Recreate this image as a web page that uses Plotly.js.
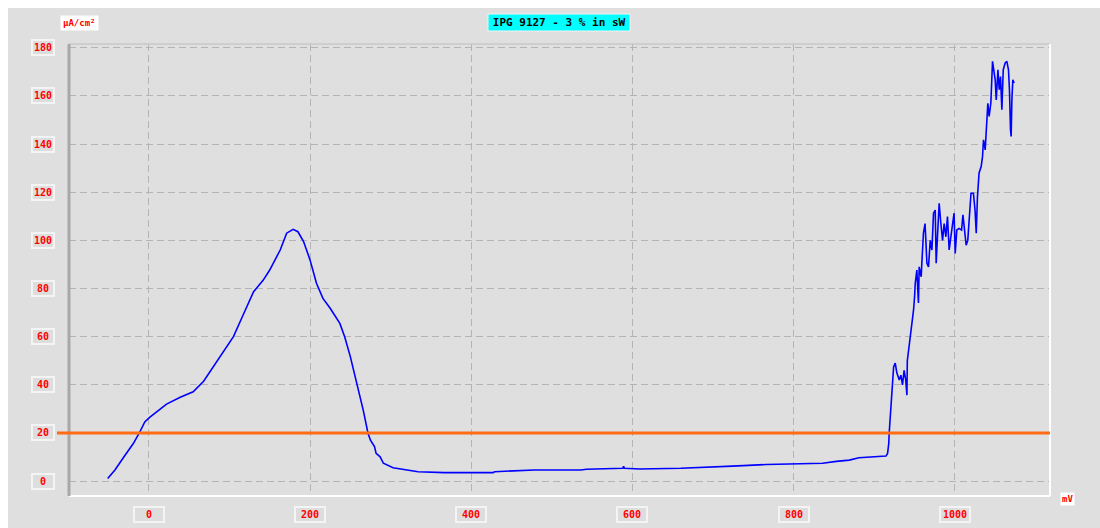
<!DOCTYPE html>
<html>
<head>
<meta charset="utf-8">
<script src="https://cdn.plot.ly/plotly-3.0.1.min.js"></script>
<style>html,body{margin:0;padding:0;background:#fff;}#chart{width:1100px;height:528px;}</style>
</head>
<body>
<div id="chart"></div>
<script>
// ---- data ----
const chartTitle = "IPG 9127 - 3 % in sW";
const yUnit = "µA/cm²";
const xUnit = "mV";
const xTickVals = [0, 200, 400, 600, 800, 1000];
const xTickText = ["0", "200", "400", "600", "800", "1000"];
const yTickVals = [0, 20, 40, 60, 80, 100, 120, 140, 160, 180];
const yTickText = ["0", "20", "40", "60", "80", "100", "120", "140", "160", "180"];
const thresholdLevel = 20;

const potential = [
  -51, -42, -31, -19, -11, -5, 1, 10, 22, 39, 55, 68, 80, 92, 105, 117, 130, 142, 150, 163,
  171, 179, 185, 192, 200, 208, 216, 225, 237, 243, 250, 258, 266, 272, 275, 280, 282, 287, 291, 303,
  320, 334, 367, 427, 429, 476, 478, 536, 543, 588, 589, 590, 609, 660, 671, 724, 766, 795, 836, 853,
  869, 881, 912, 914.5, 916.5, 918, 918.5, 920, 922, 924, 926, 928, 931, 933, 935, 937, 939, 940.5, 941,
  943.3, 945.8, 947.5, 948.7, 950, 950.8, 952.8, 954.8, 955.7, 958.2, 959, 961, 963, 965.3, 967.3, 969.4, 971.5, 973.5, 975.6, 976.8,
  978.4, 980.5, 982.6, 984.7, 986.7, 988.8, 990.8, 992.9, 995, 997, 999, 1000.4, 1002.4, 1005.3, 1008.3, 1010, 1012, 1014, 1016, 1017.7,
  1020, 1023, 1025, 1026.5, 1028, 1030, 1032.6, 1034.3, 1035.5, 1037.6, 1038.8, 1040.9, 1042.5, 1044.6, 1046.7, 1048.4, 1050, 1051.3, 1053.4, 1055,
  1056.6, 1058.3, 1060, 1062.4, 1064.5, 1066.5, 1067.7, 1069, 1069.8, 1070.7, 1071.9, 1073.5
];
const currentDensity = [
  1.1, 4.6, 10, 15.7, 20.5, 24.6, 26.5, 28.8, 32, 34.8, 37.1, 41.5, 47.5, 53.7, 60, 69, 78.7, 83.5, 87.7, 96,
  103, 104.6, 103.6, 99.5, 91.9, 82.2, 75.9, 71.8, 65.5, 60, 51.7, 40.6, 29.5, 19.8, 17, 14.3, 11.5, 10.1, 7.4, 5.5,
  4.6, 3.9, 3.5, 3.5, 3.9, 4.3, 4.6, 4.6, 4.9, 5.3, 6.2, 5.3, 5.0, 5.3, 5.5, 6.2, 6.9, 7.1, 7.4, 8.2,
  8.7, 9.7, 10.1, 10.4, 11.5, 15.7, 20, 28, 37.8, 47.4, 49, 45, 42, 44, 40, 46, 42, 35.7, 50,
  55.8, 62.7, 66.9, 71, 76.6, 82.1, 87.7, 74, 89, 84.9, 90.5, 103, 107, 90.5, 89, 100, 96, 111.3, 112.6, 90.5,
  101.5, 115.4, 107, 100, 107, 101.5, 109.9, 96, 101.5, 105.7, 111.3, 94.6, 104.3, 105, 104.3, 110.6, 104.3, 98, 100, 109.9,
  119.6, 119.6, 112.6, 103, 118, 128, 130.7, 134.8, 141.8, 137.6, 143.2, 157, 151.5, 157, 174.4, 170.9, 166.7, 158.4, 170.9, 162.6,
  168.1, 154.3, 170.9, 173.7, 174.4, 170.9, 162.6, 146, 143.2, 158.4, 166.7, 165.4
];

// ---- geometry ----
const W = 1100, H = 528;
const M = {l: 69, r: 50, t: 44, b: 32};
const pw = W - M.l - M.r, ph = H - M.t - M.b;
const px = v => (v - M.l) / pw;          // pixel x -> paper x
const py = v => (H - M.b - v) / ph;      // pixel y -> paper y

const labelFont = {family: "DejaVu Sans Mono", size: 10, color: "#ff0000", weight: "bold"};
const boxBg = "#dddddd", boxBorder = "#f4f4f4";

const annotations = [];
yTickVals.forEach((v, i) => annotations.push({
  xref: "paper", yref: "y", x: px(43), y: v, xanchor: "center", yanchor: "middle",
  text: yTickText[i], showarrow: false, font: labelFont,
  bgcolor: boxBg, bordercolor: boxBorder, borderwidth: 2, borderpad: 0, width: 20, height: 13
}));
xTickVals.forEach((v, i) => annotations.push({
  xref: "x", yref: "paper", x: v, y: py(514.5), xanchor: "center", yanchor: "middle",
  text: xTickText[i], showarrow: false, font: labelFont,
  bgcolor: boxBg, bordercolor: boxBorder, borderwidth: 2, borderpad: 0, width: 28, height: 13
}));
annotations.push({
  xref: "paper", yref: "paper", x: px(79), y: py(23), xanchor: "center", yanchor: "middle",
  text: yUnit, showarrow: false, font: Object.assign({}, labelFont, {size: 9}),
  bgcolor: "#ffffff", borderpad: 2
});
annotations.push({
  xref: "paper", yref: "paper", x: px(1067), y: py(499), xanchor: "center", yanchor: "middle",
  text: xUnit, showarrow: false, font: Object.assign({}, labelFont, {size: 9}),
  bgcolor: "#ffffff", borderpad: 1
});

const shapes = [
  // white outer strips (top, left)
  {type: "rect", xref: "paper", yref: "paper", x0: px(-10), x1: px(1110), y0: py(8), y1: py(-10), fillcolor: "#ffffff", line: {width: 0}, layer: "below"},
  {type: "rect", xref: "paper", yref: "paper", x0: px(-10), x1: px(8), y0: py(540), y1: py(-10), fillcolor: "#ffffff", line: {width: 0}, layer: "below"},
  // title box
  {type: "rect", xref: "paper", yref: "paper", x0: px(488), x1: px(630), y0: py(31), y1: py(14), fillcolor: "#00ffff", line: {color: "#f2f2f2", width: 1}, layer: "below"},
  // frame
  {type: "line", xref: "paper", yref: "paper", x0: 0, x1: 1, y0: 1, y1: 1, line: {color: "#c8c8c8", width: 1.5}},
  {type: "line", xref: "paper", yref: "paper", x0: 0, x1: 1, y0: 0, y1: 0, line: {color: "#ffffff", width: 2}},
  {type: "line", xref: "paper", yref: "paper", x0: 1, x1: 1, y0: 0, y1: 1, line: {color: "#ffffff", width: 2}},
  {type: "line", xref: "paper", yref: "paper", x0: 0, x1: 0, y0: 0, y1: 1, line: {color: "#a8a8a8", width: 3}},
  // threshold line
  {type: "line", xref: "paper", yref: "y", x0: px(57), x1: 1, y0: thresholdLevel, y1: thresholdLevel, line: {color: "#ff6c14", width: 3}}
];

const trace = {
  x: potential, y: currentDensity, type: "scatter", mode: "lines",
  line: {color: "#0000ff", width: 1.6}, hoverinfo: "skip"
};

const layout = {
  width: W, height: H,
  margin: {l: M.l, r: M.r, t: M.t, b: M.b, pad: 0},
  paper_bgcolor: "#dfdfdf", plot_bgcolor: "#dfdfdf",
  showlegend: false,
  title: {
    text: chartTitle, xref: "paper", yref: "paper", x: px(559), y: py(22.5),
    xanchor: "center", yanchor: "middle",
    font: {family: "DejaVu Sans Mono", size: 11, color: "#000000", weight: "bold"}
  },
  xaxis: {
    range: [-99, 1118], tickvals: xTickVals, showticklabels: false, ticks: "",
    showgrid: true, gridcolor: "#b4b4b4", gridwidth: 1, griddash: "7px,4px",
    zeroline: false, showline: false, fixedrange: true
  },
  yaxis: {
    range: [-6.2, 181.6], tickvals: yTickVals, showticklabels: false, ticks: "",
    showgrid: true, gridcolor: "#b4b4b4", gridwidth: 1, griddash: "7px,4px",
    zeroline: false, showline: false, fixedrange: true
  },
  shapes: shapes,
  annotations: annotations
};

Plotly.newPlot("chart", [trace], layout, {staticPlot: true, displayModeBar: false});
</script>
</body>
</html>
